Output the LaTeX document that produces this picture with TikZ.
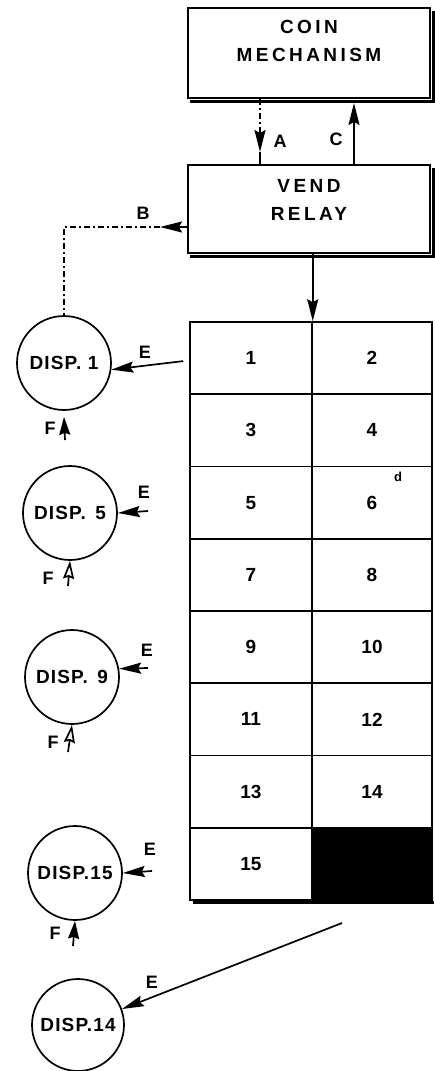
\documentclass[tikz,border=0pt]{standalone}
\usepackage{fontspec}
\setmainfont{Liberation Sans}
\newfontfamily\boxfont[LetterSpace=18]{Liberation Sans Bold}
\newfontfamily\dispfont[LetterSpace=6]{Liberation Sans Bold}
\usetikzlibrary{positioning,arrows.meta}

\begin{document}
\begin{tikzpicture}
  [x=1pt,y=-1pt,line width=1.7pt,
   every node/.style={font=\bfseries\fontsize{19}{28}\selectfont},
   box/.style={draw,line width=2pt,minimum width=242,minimum height=90},
   boxtxt/.style={font=\boxfont\fontsize{19}{28}\selectfont,align=center},
   disp/.style={circle,draw,line width=1.7pt,minimum size=94,inner sep=0pt,
     font=\dispfont\fontsize{19}{20}\selectfont},
   cell/.style={draw,line width=1.5pt,minimum height=72.25,inner sep=0pt},
   lcell/.style={cell,minimum width=122},
   rcell/.style={cell,minimum width=120},
   lbl/.style={inner sep=1pt,font=\bfseries\fontsize{18}{20}\selectfont},
   dashline/.style={line width=1.2pt,dash pattern=on 6pt off 3pt on 2pt off 3pt},
   arr/.style={-{Stealth[length=22pt,width=11pt,inset=3pt]}},
   farr/.style={-{Stealth[length=18pt,width=11pt,inset=2pt]}},
   oarr/.style={-{Stealth[open,length=18pt,width=11pt,inset=2pt]}},
   shade/.style={line width=3pt}]
  \useasboundingbox (0,0) rectangle (434,1071);

  % boxes
  \node[box] (coin) at (309,53) {};
  \node[boxtxt] (cointxt) at (309,41) {COIN\\MECHANISM};
  \node[box,minimum height=88] (vend) at (309,209) {};
  \node[boxtxt] (vendtxt) at (309,200) {VEND\\RELAY};
  \draw[shade] ([xshift=3pt,yshift=-2pt]coin.south west) -- ([xshift=2pt,yshift=-2pt]coin.south east) -- ([xshift=2pt,yshift=-4pt]coin.north east);
  \draw[shade] ([xshift=3pt,yshift=-2pt]vend.south west) -- ([xshift=2pt,yshift=-2pt]vend.south east) -- ([xshift=2pt,yshift=-4pt]vend.north east);

  % cells
  \node[lcell] (c1) at (251,358.1) {1};
  \node[rcell] (c2) at (372,358.1) {2};
  \node[lcell] (c3) at (251,430.4) {3};
  \node[rcell] (c4) at (372,430.4) {4};
  \node[lcell] (c5) at (251,502.6) {5};
  \node[rcell] (c6) at (372,502.6) {6};
  \node[lcell] (c7) at (251,574.9) {7};
  \node[rcell] (c8) at (372,574.9) {8};
  \node[lcell] (c9) at (251,647.1) {9};
  \node[rcell] (c10) at (372,647.1) {10};
  \node[lcell] (c11) at (251,719.4) {11};
  \node[rcell] (c12) at (372,719.4) {12};
  \node[lcell] (c13) at (251,791.6) {13};
  \node[rcell] (c14) at (372,791.6) {14};
  \node[lcell] (c15) at (251,863.9) {15};
  \node[rcell,fill=black] (c16) at (372,863.9) {};
  \draw[shade] ([xshift=4pt,yshift=-2pt]c15.south west) -- ([xshift=1pt,yshift=-2pt]c16.south east);
  \node[lbl,font=\bfseries\fontsize{13}{14}\selectfont] (dmark) at (398,477) {d};

  % dispensers
  \node[disp] (d1) at (64,363) {DISP. 1};
  \node[disp] (d5) at (70,513) {DISP.\enspace5};
  \node[disp] (d9) at (72,677) {DISP.\enspace9};
  \node[disp] (d15) at (75,873) {DISP.15};
  \node[disp,minimum size=92] (d14) at (78,1025) {DISP.14};

  % coin <-> relay
  \coordinate (a1) at ([xshift=-49pt]coin.south);
  \coordinate (a2) at ([xshift=-49pt]vend.north);
  \coordinate (am) at (260,152);
  \draw[dashline] (a1) -- ([yshift=16pt]am);
  \draw[arr] ([yshift=16pt]am) -- (am);
  \draw (am) -- (a2);
  \node[lbl] (la) at (280,141) {A};
  \coordinate (c1a) at ([xshift=45pt]vend.north);
  \coordinate (c2a) at ([xshift=45pt,yshift=-4pt]coin.south);
  \draw[arr] (c1a) -- (c2a);
  \node[lbl] (lc) at (336,139) {C};

  % relay -> dispenser 1
  \coordinate (b1) at (160,227);
  \draw[arr] ([yshift=-18pt]vend.west) -- (b1);
  \draw[dashline] (b1) -| (d1.north);
  \node[lbl] (lb) at (143,213) {B};

  % relay -> selector
  \draw[arr] (vend.south -| c1.north east) -- (c1.north east);

  % E lines
  \coordinate (e1) at ([xshift=-6pt,yshift=-3pt]c1.west);
  \draw[arr] (e1) -- (d1.-8);
  \node[lbl] (le1) at (145,352) {E};
  \coordinate (e5) at (148,511);
  \draw[arr] (e5) -- (d5.east);
  \node[lbl] (le5) at (144,492) {E};
  \coordinate (e9) at (148,668);
  \draw[arr] (e9) -- (d9.10);
  \node[lbl] (le9) at (147,650) {E};
  \coordinate (e15) at (152,871);
  \draw[arr] (e15) -- (d15.east);
  \node[lbl] (le15) at (150,849) {E};
  \coordinate (e14) at (342,923);
  \draw[arr] (e14) -- (d14.20);
  \node[lbl] (le14) at (152,982) {E};

  % F lines
  \coordinate (f1) at (65,440);
  \draw[farr] (f1) -- ([yshift=-6pt]d1.south);
  \node[lbl] (lf1) at (50,428) {F};
  \coordinate (f5) at (68,586);
  \draw[oarr] (f5) -- (d5.south);
  \node[lbl] (lf5) at (48,578) {F};
  \coordinate (f9) at (68,752);
  \draw[oarr] (f9) -- (d9.south);
  \node[lbl] (lf9) at (53,742) {F};
  \coordinate (f15) at (73,946);
  \draw[farr] (f15) -- (d15.south);
  \node[lbl] (lf15) at (55,933) {F};
\end{tikzpicture}
\end{document}
